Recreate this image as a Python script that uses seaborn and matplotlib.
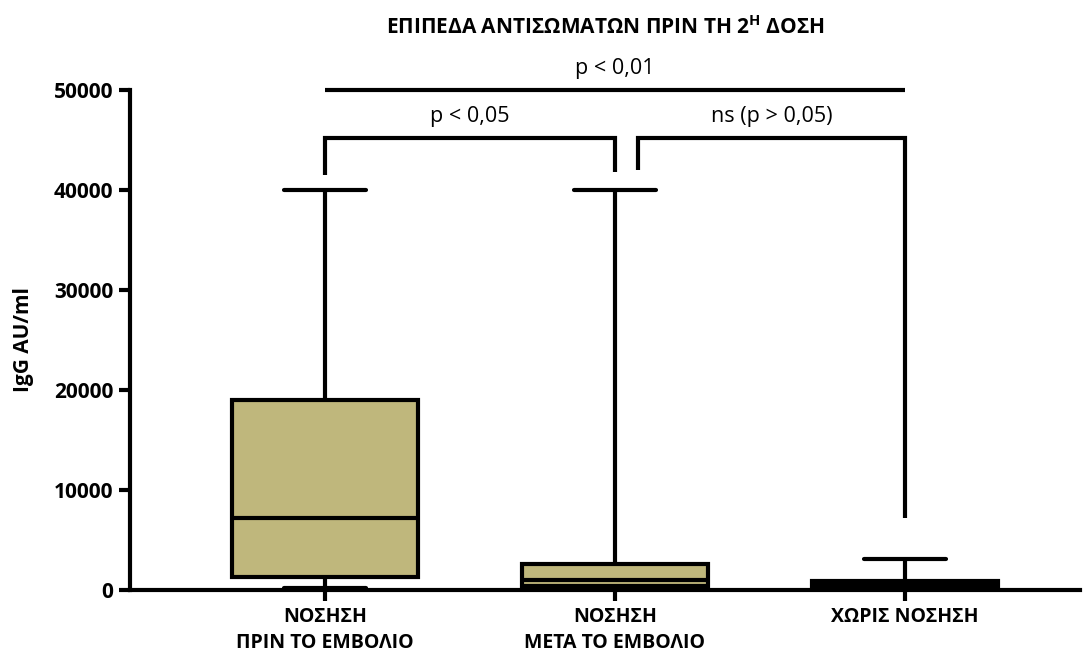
import matplotlib
matplotlib.use("Agg")
import matplotlib.pyplot as plt
import seaborn as sns
import pandas as pd

categories = ["ΝΟΣΗΣΗ\nΠΡΙΝ ΤΟ ΕΜΒΟΛΙΟ", "ΝΟΣΗΣΗ\nΜΕΤΑ ΤΟ ΕΜΒΟΛΙΟ", "ΧΩΡΙΣ ΝΟΣΗΣΗ"]
# five-number summaries (min, Q1, median, Q3, max)
group1 = [200, 1300, 7200, 19000, 40000]
group2 = [100, 400, 1000, 2600, 40000]
group3 = [50, 150, 500, 900, 3100]
yticks = [0, 10000, 20000, 30000, 40000, 50000]
title = r"ΕΠΙΠΕΔΑ ΑΝΤΙΣΩΜΑΤΩΝ ΠΡΙΝ ΤΗ 2$^{\mathbf{H}}$ ΔΟΣΗ"
ylabel = "IgG AU/ml"
comparisons = [  # (left x, right x, bar level, left drop, right drop, label)
    (0, 2, 50000, 50000, 50000, "p < 0,01"),
    (0, 1, 45200, 41500, 41800, "p < 0,05"),
    (1.08, 2, 45200, 42000, 7200, "ns (p > 0,05)"),
]

sns.set_theme(style="white")
plt.rcParams["font.family"] = ["Open Sans", "DejaVu Sans"]
plt.rcParams["mathtext.fontset"] = "custom"
plt.rcParams["mathtext.bf"] = "Open Sans:bold"
plt.rcParams["mathtext.rm"] = "Open Sans"
plt.rcParams["text.color"] = "black"
plt.rcParams["xtick.color"] = "black"
plt.rcParams["ytick.color"] = "black"
plt.rcParams["axes.labelcolor"] = "black"

df = pd.DataFrame({
    "group": [categories[0]] * 5 + [categories[1]] * 5 + [categories[2]] * 5,
    "value": group1 + group2 + group3,
})

fig = plt.figure(figsize=(10.88, 6.59), dpi=100)
ax = fig.add_axes([0.1195, 0.1047, 0.8731, 0.7587])
lw = 3.0
sns.boxplot(data=df, x="group", y="value", order=categories, whis=(0, 100),
            width=0.64, color="#BFB77C", saturation=1, linecolor="black",
            linewidth=lw, ax=ax,
            medianprops=dict(color="black", linewidth=lw),
            whiskerprops=dict(color="black", linewidth=lw),
            capprops=dict(color="black", linewidth=lw),
            boxprops=dict(edgecolor="black", linewidth=lw))

# widen caps to match reference
for line in ax.lines:
    xd = line.get_xdata()
    yd = line.get_ydata()
    if len(xd) == 2 and yd[0] == yd[1] and 0.01 < abs(xd[1] - xd[0]) < 0.5:
        c = (xd[0] + xd[1]) / 2
        line.set_xdata([c - 0.14, c + 0.14])

ax.set_xlim(-0.672, 2.603)
ax.set_ylim(0, 50000)
ax.set_yticks(yticks)
ax.set_yticklabels([str(v) for v in yticks], fontsize=15, fontweight="bold")
ax.set_xticks(range(3))
ax.set_xticklabels(categories, fontsize=14, fontweight="bold", linespacing=1.45)
ax.set_xlabel("")
ax.set_ylabel(ylabel, fontsize=15, fontweight="bold", labelpad=14)
ax.set_title(title, fontsize=15, fontweight="bold", pad=40)

for s in ["top", "right"]:
    ax.spines[s].set_visible(False)
for s in ["left", "bottom"]:
    ax.spines[s].set_linewidth(lw)
    ax.spines[s].set_color("black")
ax.tick_params(axis="both", direction="out", length=8, width=lw, color="black",
               left=True, bottom=True, pad=4)

for x1, x2, yl, d1, d2, lab in comparisons:
    ax.plot([x1, x1, x2, x2], [d1, yl, yl, d2], color="black", lw=lw,
            clip_on=False, solid_capstyle="butt", solid_joinstyle="miter")
    ax.text((x1 + x2) / 2, yl + 1100, lab, ha="center", va="bottom", fontsize=15.5)

fig.savefig("out.png", dpi=100)
